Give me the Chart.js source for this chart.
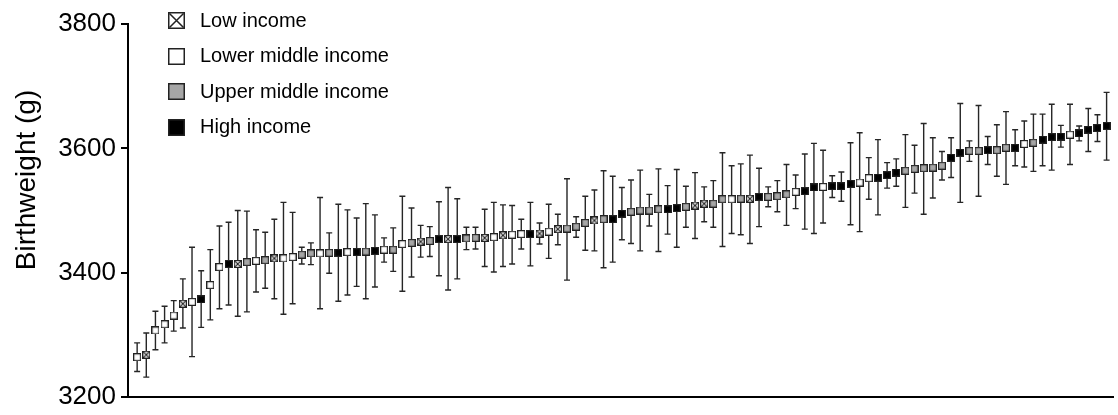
<!DOCTYPE html>
<html><head><meta charset="utf-8">
<script src="https://cdn.jsdelivr.net/npm/chart.js@4.4.1/dist/chart.umd.min.js"></script>
<style>html,body{margin:0;padding:0;background:#fff;}#wrap{width:1118px;height:415px;position:relative;}</style>
</head><body><div id="wrap"><canvas id="c" width="1118" height="415"></canvas></div>
<script>
const groupNames = ['Low income', 'Lower middle income', 'Upper middle income', 'High income'];
const groupCodes = ['L', 'LM', 'UM', 'H'];
const groupFills = ['#ffffff', '#ffffff', '#a6a6a6', '#000000'];
const yTickValues = [3200, 3400, 3600, 3800];
const yTitle = 'Birthweight (g)';

const countryGroup = [
 'LM','L','LM','LM','LM','L','LM','H','LM','LM',
 'H','L','UM','LM','UM','L','LM','LM','UM','UM',
 'LM','UM','H','LM','H','UM','H','LM','UM','LM',
 'UM','L','UM','H','L','H','UM','UM','L','LM',
 'L','LM','LM','H','L','LM','L','UM','UM','UM',
 'L','UM','H','H','UM','UM','UM','UM','H','H',
 'UM','L','L','UM','UM','LM','UM','L','H','UM',
 'UM','UM','LM','H','H','LM','H','H','H','LM',
 'LM','H','H','H','UM','UM','UM','UM','UM','H',
 'H','UM','UM','H','UM','UM','H','LM','UM','H',
 'H','H','LM','H','H','H','H'
];
const meanWeight = [
 3264,3268,3307,3317,3331,3350,3353,3357,3380,3409,
 3414,3414,3417,3419,3420,3423,3423,3425,3429,3431,
 3431,3432,3432,3433,3433,3434,3435,3437,3437,3446,
 3448,3450,3451,3454,3454,3454,3455,3456,3456,3457,
 3460,3461,3462,3462,3463,3466,3470,3471,3474,3480,
 3484,3486,3486,3495,3498,3500,3500,3502,3502,3504,
 3506,3508,3511,3511,3518,3518,3519,3519,3522,3522,
 3523,3526,3530,3531,3537,3538,3539,3539,3543,3545,
 3552,3553,3557,3561,3564,3567,3568,3569,3572,3585,
 3593,3596,3596,3597,3597,3601,3601,3607,3609,3614,
 3618,3619,3622,3624,3630,3633,3636
];
const lowerCI = [
 3241,3232,3276,3287,3306,3311,3265,3312,3324,3342,
 3348,3330,3337,3369,3375,3358,3333,3350,3414,3413,
 3342,3399,3354,3364,3378,3358,3377,3417,3402,3370,
 3393,3425,3426,3395,3372,3390,3437,3438,3410,3401,
 3410,3414,3438,3411,3446,3423,3445,3388,3457,3436,
 3435,3408,3417,3453,3447,3435,3475,3434,3462,3441,
 3473,3455,3482,3473,3442,3463,3461,3447,3474,3506,
 3498,3476,3503,3470,3463,3480,3521,3515,3477,3466,
 3518,3493,3536,3539,3505,3528,3494,3520,3549,3553,
 3513,3579,3523,3574,3555,3542,3572,3570,3563,3572,
 3565,3602,3574,3612,3595,3611,3581
];
const upperCI = [
 3287,3303,3338,3346,3355,3390,3441,3403,3437,3475,
 3481,3500,3499,3469,3465,3486,3513,3497,3441,3448,
 3521,3464,3510,3501,3488,3511,3493,3456,3472,3523,
 3504,3476,3474,3514,3537,3519,3473,3473,3502,3513,
 3509,3508,3486,3513,3480,3510,3494,3551,3490,3523,
 3533,3564,3555,3537,3549,3565,3526,3567,3540,3566,
 3539,3561,3538,3548,3593,3572,3575,3589,3568,3538,
 3548,3574,3557,3591,3608,3597,3556,3562,3609,3625,
 3585,3614,3577,3583,3622,3605,3640,3617,3595,3617,
 3672,3612,3669,3619,3638,3659,3630,3644,3655,3655,
 3671,3637,3671,3636,3664,3654,3690
];

function makeMarker(fill, cross, size, lw) {
  const c = document.createElement('canvas');
  c.width = size; c.height = size;
  const g = c.getContext('2d');
  g.fillStyle = fill;
  g.fillRect(0, 0, size, size);
  g.strokeStyle = '#222222';
  g.lineWidth = lw;
  g.strokeRect(lw / 2, lw / 2, size - lw, size - lw);
  if (cross) {
    g.beginPath();
    g.moveTo(lw, lw); g.lineTo(size - lw, size - lw);
    g.moveTo(size - lw, lw); g.lineTo(lw, size - lw);
    g.stroke();
  }
  return c;
}
const pointMarkers = groupCodes.map((code, k) => makeMarker(groupFills[k], code === 'L', 8, 1.2));
const legendMarkers = groupCodes.map((code, k) => makeMarker(groupFills[k], code === 'L', 17, 1.5));

const datasets = groupCodes.map((code, k) => {
  const pts = [];
  countryGroup.forEach((g, i) => { if (g === code) pts.push({ x: i + 1, y: meanWeight[i] }); });
  return {
    label: groupNames[k],
    data: pts,
    pointStyle: pointMarkers[k],
    pointRadius: 4,
    pointHoverRadius: 4,
    showLine: false
  };
});

const errorBars = {
  id: 'errorBars',
  beforeDatasetsDraw(chart) {
    const { ctx, scales: { x, y } } = chart;
    ctx.save();
    ctx.strokeStyle = '#262626';
    ctx.lineWidth = 1.4;
    const cap = 3;
    meanWeight.forEach((m, i) => {
      const px = x.getPixelForValue(i + 1);
      const yl = y.getPixelForValue(lowerCI[i]);
      const yh = y.getPixelForValue(upperCI[i]);
      ctx.beginPath();
      ctx.moveTo(px, yl); ctx.lineTo(px, yh);
      ctx.moveTo(px - cap, yl); ctx.lineTo(px + cap, yl);
      ctx.moveTo(px - cap, yh); ctx.lineTo(px + cap, yh);
      ctx.stroke();
    });
    ctx.restore();
  }
};

const customLegend = {
  id: 'customLegend',
  afterDraw(chart) {
    const ctx = chart.ctx;
    ctx.save();
    ctx.font = '20px "Liberation Sans", Arial, sans-serif';
    ctx.fillStyle = '#000';
    ctx.textBaseline = 'middle';
    ctx.textAlign = 'left';
    groupNames.forEach((name, k) => {
      const cy = 20.5 + k * 35.5;
      ctx.drawImage(legendMarkers[k], 168, Math.round(cy - 8.5));
      ctx.fillText(name, 200, cy + 0.5);
    });
    ctx.restore();
  }
};

const yTitlePlugin = {
  id: 'yTitlePlugin',
  afterDraw(chart) {
    const ctx = chart.ctx;
    ctx.save();
    ctx.translate(27, 180);
    ctx.rotate(-Math.PI / 2);
    ctx.font = '28px "Liberation Sans", Arial, sans-serif';
    ctx.fillStyle = '#000';
    ctx.textAlign = 'center';
    ctx.textBaseline = 'middle';
    ctx.fillText(yTitle, 0, 0);
    ctx.restore();
  }
};

new Chart(document.getElementById('c'), {
  type: 'scatter',
  data: { datasets },
  options: {
    responsive: false,
    animation: false,
    devicePixelRatio: 1,
    layout: { padding: { top: 24, right: 0, left: 0, bottom: 0 } },
    plugins: { legend: { display: false }, tooltip: { enabled: false }, title: { display: false } },
    scales: {
      x: {
        type: 'linear', min: 0, max: 107.7,
        ticks: { display: false },
        grid: { display: false, drawTicks: false },
        border: { display: true, color: '#000', width: 2 },
        afterFit(s) { s.height = 16; }
      },
      y: {
        type: 'linear', min: 3200, max: 3800,
        afterBuildTicks(s) { s.ticks = yTickValues.map(v => ({ value: v })); },
        ticks: {
          color: '#000',
          font: { size: 26, family: '"Liberation Sans", Arial, sans-serif', lineHeight: 1 },
          padding: 5,
          callback: (v) => String(v)
        },
        grid: { drawOnChartArea: false, drawTicks: true, tickLength: 7, color: '#000', lineWidth: 2 },
        border: { display: true, color: '#000', width: 2 },
        afterFit(s) { s.width = 128; }
      }
    }
  },
  plugins: [errorBars, customLegend, yTitlePlugin]
});
</script>
</body></html>
